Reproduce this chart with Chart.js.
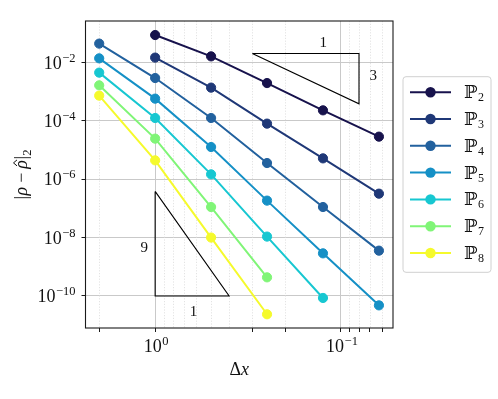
<!DOCTYPE html>
<html><head><meta charset="utf-8">
<script src="https://cdn.jsdelivr.net/npm/chart.js@4.4.0/dist/chart.umd.min.js"></script>
<style>html,body{margin:0;padding:0;background:#fff}#wrap{width:498px;height:399px}</style>
</head><body><div id="wrap"><canvas id="c" width="498" height="399"></canvas></div>
<script>
// ---- data ----
const dx = [2, 1, 0.5, 0.25, 0.125, 0.0625];
const seriesOrders = [2, 3, 4, 5, 6, 7, 8];
const errP2 = [null, 8.6e-2, 1.6e-2, 1.95e-3, 2.27e-4, 2.85e-5];
const errP3 = [null, 1.45e-2, 1.36e-3, 7.96e-5, 5.15e-6, 3.18e-7];
const errP4 = [4.37e-2, 2.9e-3, 1.24e-4, 3.56e-6, 1.11e-7, 3.56e-9];
const errP5 = [1.37e-2, 5.71e-4, 1.26e-5, 1.84e-7, 2.88e-9, 4.77e-11];
const errP6 = [4.44e-3, 1.24e-4, 1.46e-6, 1.08e-8, 8.55e-11, null];
const errP7 = [1.63e-3, 2.44e-5, 1.11e-7, 4.34e-10, null, null];
const errP8 = [7.24e-4, 4.4e-6, 1.0e-8, 2.36e-11, null, null];
const seriesColors = ['#17124c', '#1f3877', '#22619e', '#1590c6', '#17c7d1', '#80f577', '#f5fa2c'];
const xMajorTicks = [1, 0.1];
const xMinorTicks = [2, 0.9, 0.8, 0.7, 0.6, 0.5, 0.4, 0.3, 0.2, 0.09, 0.08, 0.07, 0.06];
const xTickMarks = [2, 1, 0.3, 0.2, 0.1, 0.09, 0.08, 0.07, 0.06];
const yMajorTicks = [1e-2, 1e-4, 1e-6, 1e-8, 1e-10];
const triSlope3X = [0.3, 0.08, 0.08, 0.3];
const triSlope3Y = [2e-2, 2e-2, 3.79e-4, 2e-2];
const triSlope9X = [1, 1, 0.4, 1];
const triSlope9Y = [3.8e-7, 1e-10, 1e-10, 3.8e-7];
const triLabels = [
  {text: '1', x: 0.1245, y: 0.0448},
  {text: '3', x: 0.067, y: 3.32e-3},
  {text: '9', x: 1.146, y: 4.37e-9},
  {text: '1', x: 0.622, y: 2.77e-11}
];
const allErr = [errP2, errP3, errP4, errP5, errP6, errP7, errP8];

// ---- build datasets ----
const datasets = allErr.map((arr, i) => ({
  label: 'ℙ' + seriesOrders[i],
  data: dx.map((x, j) => ({x: x, y: arr[j]})).filter(p => p.y !== null),
  borderColor: seriesColors[i],
  backgroundColor: seriesColors[i],
  pointBackgroundColor: seriesColors[i],
  pointBorderColor: seriesColors[i],
  borderWidth: 2,
  pointRadius: 4.6,
  pointBorderWidth: 1,
  tension: 0,
  order: 20 - i
}));
function triDs(xs, ys) {
  return {label: '_tri', data: xs.map((x, j) => ({x: x, y: ys[j]})), borderColor: '#000',
    borderWidth: 1.1, pointRadius: 0, tension: 0, order: 100, fill: false};
}
datasets.push(triDs(triSlope3X, triSlope3Y));
datasets.push(triDs(triSlope9X, triSlope9Y));

const SERIF = '"Liberation Serif", "DejaVu Serif", serif';
const near = (a, b) => Math.abs(Math.log10(a) - Math.log10(b)) < 1e-6;

function drawPow(ctx, exp, x, y, align) {
  const base = '10';
  const e = String(exp).replace('-', '\u2212');
  ctx.font = '18px ' + SERIF;
  const wb = ctx.measureText(base).width;
  ctx.font = '12.5px ' + SERIF;
  const we = ctx.measureText(e).width;
  const w = wb + we + 0.5;
  let x0 = align === 'right' ? x - w : x - w / 2;
  ctx.fillStyle = '#111';
  ctx.textAlign = 'left';
  ctx.textBaseline = 'alphabetic';
  ctx.font = '18px ' + SERIF;
  ctx.fillText(base, x0, y + 6.2);
  ctx.font = '12.5px ' + SERIF;
  ctx.fillText(e, x0 + wb + 0.5, y - 0.8);
}

const deco = {
  id: 'deco',
  beforeDatasetsDraw(chart) {
    const {ctx, chartArea: a, scales: {x}} = chart;
    ctx.save();
    ctx.strokeStyle = '#dcdcdc';
    ctx.lineWidth = 0.8;
    ctx.setLineDash([1.2, 1.6]);
    xMinorTicks.forEach(v => {
      const px = Math.round(x.getPixelForValue(v)) + 0.5;
      ctx.beginPath(); ctx.moveTo(px, a.top); ctx.lineTo(px, a.bottom); ctx.stroke();
    });
    ctx.restore();
  },
  afterDraw(chart) {
    const {ctx, chartArea: a, scales: {x, y}} = chart;
    ctx.save();
    ctx.strokeStyle = '#1a1a1a';
    ctx.lineWidth = 1.1;
    ctx.strokeRect(a.left, a.top, a.right - a.left, a.bottom - a.top);
    yMajorTicks.forEach(v => drawPow(ctx, Math.round(Math.log10(v)), a.left - 10, y.getPixelForValue(v), 'right'));
    xMajorTicks.forEach(v => drawPow(ctx, Math.round(Math.log10(v)), x.getPixelForValue(v) + 1, a.bottom + 18, 'center'));
    ctx.fillStyle = '#111';
    ctx.font = '15px ' + SERIF;
    ctx.textAlign = 'center';
    ctx.textBaseline = 'middle';
    triLabels.forEach(l => ctx.fillText(l.text, x.getPixelForValue(l.x), y.getPixelForValue(l.y)));
    // x title
    ctx.textBaseline = 'alphabetic';
    ctx.font = '18px ' + SERIF;
    const wD = ctx.measureText('Δ').width;
    ctx.font = 'italic 18px ' + SERIF;
    const wX = ctx.measureText('x').width;
    const cx = (a.left + a.right) / 2;
    ctx.textAlign = 'left';
    ctx.font = '18px ' + SERIF;
    ctx.fillText('Δ', cx - (wD + wX) / 2, 375);
    ctx.font = 'italic 18px ' + SERIF;
    ctx.fillText('x', cx - (wD + wX) / 2 + wD, 375);
    // y title
    const parts = [
      {t: '|', f: '18px ' + SERIF, dy: 0, gap: 0.5},
      {t: 'ρ', f: 'italic 18px ' + SERIF, dy: 0, gap: 4},
      {t: '\u2212', f: '18px ' + SERIF, dy: 0, gap: 4},
      {t: 'ρ', f: 'italic 18px ' + SERIF, dy: 0, gap: 0.5, hat: true},
      {t: '|', f: '18px ' + SERIF, dy: 0, gap: 0.3},
      {t: '2', f: '12.5px ' + SERIF, dy: 4, gap: 0}
    ];
    let tw = 0;
    parts.forEach(p => { ctx.font = p.f; p.w = ctx.measureText(p.t).width; tw += p.w + p.gap; });
    ctx.translate(21, (a.top + a.bottom) / 2);
    ctx.rotate(-Math.PI / 2);
    let px = -tw / 2;
    parts.forEach(p => {
      ctx.font = p.f;
      ctx.fillText(p.t, px, p.dy + 6);
      if (p.hat) {
        ctx.strokeStyle = '#111'; ctx.lineWidth = 1;
        const hx = px + p.w / 2 + 1.5;
        ctx.beginPath(); ctx.moveTo(hx - 3, -4); ctx.lineTo(hx, -7.5); ctx.lineTo(hx + 3, -4); ctx.stroke();
      }
      px += p.w + p.gap;
    });
    ctx.restore();

    // legend
    ctx.save();
    const lx = a.right + 10, lw = 88, n = 7, step = 26.8;
    const lh = n * step + 8;
    const ly = (a.top + a.bottom) / 2 - lh / 2;
    ctx.beginPath();
    ctx.roundRect(lx, ly, lw, lh, 3);
    ctx.fillStyle = 'rgba(255,255,255,0.8)';
    ctx.fill();
    ctx.strokeStyle = '#d0d0d0';
    ctx.lineWidth = 1;
    ctx.stroke();
    for (let i = 0; i < n; i++) {
      const cy = ly + 15.5 + i * step;
      const col = seriesColors[i];
      ctx.strokeStyle = col; ctx.lineWidth = 2;
      ctx.beginPath(); ctx.moveTo(lx + 7, cy); ctx.lineTo(lx + 48, cy); ctx.stroke();
      ctx.fillStyle = col;
      ctx.beginPath(); ctx.arc(lx + 27.5, cy, 5.2, 0, Math.PI * 2); ctx.fill();
      ctx.fillStyle = '#111';
      ctx.textAlign = 'left'; ctx.textBaseline = 'alphabetic';
      ctx.font = '18px "DejaVu Serif", serif';
      ctx.fillText('ℙ', lx + 61, cy + 6);
      const wp = ctx.measureText('ℙ').width;
      ctx.font = '12px ' + SERIF;
      ctx.fillText(String(seriesOrders[i]), lx + 61 + wp + 0.5, cy + 9);
    }
    ctx.restore();
  }
};

new Chart(document.getElementById('c'), {
  type: 'line',
  data: {datasets: datasets},
  options: {
    responsive: false,
    animation: false,
    devicePixelRatio: 1,
    layout: {padding: {left: 0, top: 21, right: 105, bottom: 0}},
    plugins: {legend: {display: false}, tooltip: {enabled: false}},
    scales: {
      x: {
        type: 'logarithmic', reverse: true, min: 0.0525, max: 2.37,
        afterBuildTicks(s) { s.ticks = xMajorTicks.concat(xTickMarks.filter(v => !xMajorTicks.some(m => near(m, v)))).map(v => ({value: v})); },
        afterFit(s) { s.height = 71; },
        ticks: {display: false},
        border: {display: false},
        grid: {
          color: c => (c.tick && xMajorTicks.some(m => near(m, c.tick.value))) ? '#c9c9c9' : 'rgba(0,0,0,0)',
          lineWidth: 1, drawTicks: true, tickLength: 4,
          tickColor: c => (c.tick && xTickMarks.some(m => near(m, c.tick.value))) ? '#1a1a1a' : 'rgba(0,0,0,0)'
        }
      },
      y: {
        type: 'logarithmic', min: 8.0e-12, max: 0.26,
        afterBuildTicks(s) { s.ticks = yMajorTicks.map(v => ({value: v})); },
        afterFit(s) { s.width = 85.5; },
        ticks: {display: false},
        border: {display: false},
        grid: {color: '#c9c9c9', lineWidth: 1, drawTicks: true, tickLength: 4, tickColor: '#1a1a1a'}
      }
    }
  },
  plugins: [deco]
});
</script>
</body></html>
